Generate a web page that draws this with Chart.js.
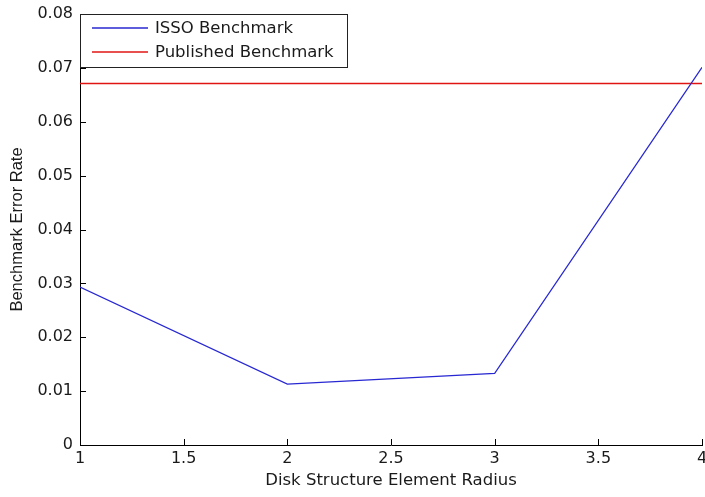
<!DOCTYPE html>
<html>
<head>
<meta charset="utf-8">
<script src="https://cdn.jsdelivr.net/npm/chart.js@4/dist/chart.umd.min.js"></script>
<style>
  html, body { margin: 0; padding: 0; background: #fff; }
  #wrap { width: 705px; height: 497px; }
</style>
</head>
<body>
<div id="wrap"><canvas id="grafica" width="705" height="497"></canvas></div>
<script>
// datos
const radios = [1, 2, 3, 4];
const errorIsso = [0.0293, 0.0113, 0.0133, 0.0701];
const errorPublicado = [0.0671, 0.0671];
const ticksX = [1, 1.5, 2, 2.5, 3, 3.5, 4];
const ticksY = [0, 0.01, 0.02, 0.03, 0.04, 0.05, 0.06, 0.07, 0.08];
const etiquetas = ["ISSO Benchmark", "Published Benchmark"];

const fuente = { family: "'DejaVu Sans', sans-serif", size: 16.5 };
const fuenteTicks = { family: "'DejaVu Sans', sans-serif", size: 16 };
const fuenteTituloY = { family: "'Liberation Sans', Arial, sans-serif", size: 16.5 };
const colorTexto = "#1a1a1a";

// marcas hacia dentro y leyenda dentro del área, como en MATLAB
const ejesMatlab = {
  id: "ejesMatlab",
  afterDraw(chart) {
    const ctx = chart.ctx;
    const { left, top, bottom } = chart.chartArea;
    const x = chart.scales.x, y = chart.scales.y;
    ctx.save();
    ctx.strokeStyle = "#000";
    ctx.lineWidth = 1;
    ctx.beginPath();
    ticksX.forEach((v) => {
      const px = Math.round(x.getPixelForValue(v)) + 0.5;
      ctx.moveTo(px, bottom);
      ctx.lineTo(px, bottom - 6);
    });
    ticksY.forEach((v) => {
      const py = Math.round(y.getPixelForValue(v)) + 0.5;
      ctx.moveTo(left, py);
      ctx.lineTo(left + 6, py);
    });
    ctx.stroke();

    // leyenda
    const bx = Math.round(left) + 0.5, by = Math.round(top) + 0.5, bw = 267, bh = 53;
    ctx.fillStyle = "#fff";
    ctx.fillRect(bx, by, bw, bh);
    ctx.strokeStyle = "#222";
    ctx.strokeRect(bx, by, bw, bh);
    ctx.font = fuente.size + "px " + fuente.family;
    ctx.textBaseline = "middle";
    chart.data.datasets.forEach((ds, i) => {
      const ly = Math.round(top + 14 + i * 24);
      ctx.strokeStyle = ds.borderColor;
      ctx.lineWidth = 1.5;
      ctx.beginPath();
      ctx.moveTo(left + 12, ly);
      ctx.lineTo(left + 68, ly);
      ctx.stroke();
      ctx.fillStyle = colorTexto;
      ctx.fillText(ds.label, left + 75, ly + 1);
    });
    ctx.restore();
  }
};

new Chart(document.getElementById("grafica"), {
  type: "scatter",
  data: {
    datasets: [
      {
        label: etiquetas[0],
        data: radios.map((r, i) => ({ x: r, y: errorIsso[i] })),
        borderColor: "rgb(40,40,210)",
        showLine: true,
        borderWidth: 1.2,
        pointRadius: 0,
        tension: 0
      },
      {
        label: etiquetas[1],
        data: [{ x: radios[0], y: errorPublicado[0] }, { x: radios[radios.length - 1], y: errorPublicado[1] }],
        borderColor: "rgb(225,20,20)",
        showLine: true,
        borderWidth: 1.6,
        pointRadius: 0
      }
    ]
  },
  options: {
    responsive: false,
    animation: false,
    layout: { padding: { top: 14, right: 3, left: 0, bottom: 0 } },
    plugins: { legend: { display: false }, tooltip: { enabled: false } },
    scales: {
      x: {
        type: "linear",
        min: 1,
        max: 4,
        afterBuildTicks: (s) => { s.ticks = ticksX.map((v) => ({ value: v })); },
        afterFit: (s) => { s.height = 52; s.paddingLeft = 0; s.paddingRight = 0; },
        grid: { display: false, drawTicks: false, tickLength: 0 },
        border: { display: true, color: "#000", width: 1 },
        ticks: { font: fuenteTicks, color: colorTexto, padding: 4, maxRotation: 0, callback: (v) => String(v) },
        title: { display: true, text: "Disk Structure Element Radius", font: fuente, color: colorTexto, padding: { top: 0, bottom: 6 } }
      },
      y: {
        type: "linear",
        min: 0,
        max: 0.08,
        afterBuildTicks: (s) => { s.ticks = ticksY.map((v) => ({ value: v })); },
        afterFit: (s) => { s.width = 80; s.paddingTop = 0; s.paddingBottom = 0; },
        grid: { display: false, drawTicks: false, tickLength: 0 },
        border: { display: true, color: "#000", width: 1 },
        ticks: { font: fuenteTicks, color: colorTexto, padding: 7, callback: (v) => (v === 0 ? "0" : v.toFixed(2)) },
        title: { display: true, text: "Benchmark Error Rate", font: fuenteTituloY, color: colorTexto, padding: { top: 8, bottom: 0 } }
      }
    }
  },
  plugins: [ejesMatlab]
});
</script>
</body>
</html>
